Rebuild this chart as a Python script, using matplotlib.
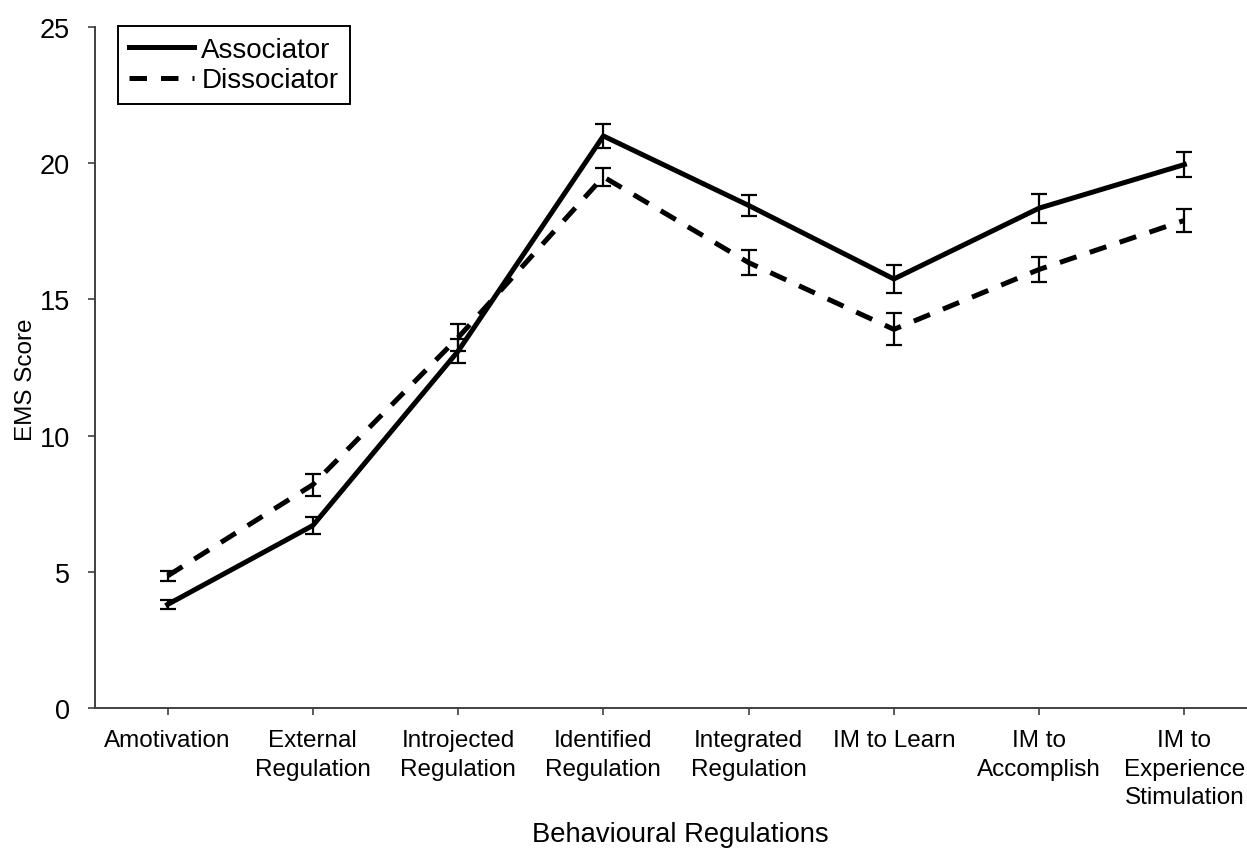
import matplotlib
matplotlib.use("Agg")
import matplotlib.pyplot as plt
from matplotlib.lines import Line2D
import numpy as np

# values
categories = [
    "Amotivation",
    "External\nRegulation",
    "Introjected\nRegulation",
    "Identified\nRegulation",
    "Integrated\nRegulation",
    "IM to Learn",
    "IM to\nAccomplish",
    "IM to\nExperience\nStimulation",
]
associator = [3.8, 6.7, 13.1, 21.0, 18.45, 15.75, 18.35, 19.95]
associator_err = [0.15, 0.33, 0.45, 0.45, 0.37, 0.5, 0.53, 0.45]
dissociator = [4.85, 8.2, 13.6, 19.5, 16.35, 13.9, 16.1, 17.9]
dissociator_err = [0.17, 0.4, 0.5, 0.33, 0.46, 0.59, 0.45, 0.42]

plt.rcParams["font.family"] = ["Liberation Sans", "DejaVu Sans"]
plt.rcParams["font.size"] = 17

fig = plt.figure(figsize=(12.47, 8.54), dpi=100)
ax = fig.add_axes([95 / 1247, 145 / 854, 1162 / 1247, 681 / 854])

x = np.arange(len(categories))
dash = (0, (3.5, 2.8))

ax.errorbar(x, associator, yerr=associator_err, color="black", linewidth=3.6,
            elinewidth=1.6, capsize=5.5, capthick=1.6)
ax.errorbar(x, dissociator, yerr=dissociator_err, color="black", linewidth=3.6,
            linestyle=dash, elinewidth=1.6, capsize=5.5, capthick=1.6)

ax.set_xlim(-0.5, 7.5)
ax.set_ylim(0, 25)
ax.set_yticks([0, 5, 10, 15, 20, 25])
ax.set_xticks(x)
ax.set_xticklabels(categories, linespacing=1.4, fontsize=17.5)
for lbl in ax.get_yticklabels():
    lbl.set_fontsize(19.5)

for side in ["top", "right"]:
    ax.spines[side].set_visible(False)
for side in ["left", "bottom"]:
    ax.spines[side].set_color("#404040")
    ax.spines[side].set_linewidth(1.4)

ax.tick_params(axis="y", direction="out", length=5, width=1.2, color="#404040", pad=13)
ax.tick_params(axis="x", direction="out", length=5, width=1.2, color="#404040", pad=10)

ax.set_ylabel("EMS Score", fontsize=17.5)
ax.yaxis.set_label_coords(-0.050, 0.483)
ax.set_xlabel("Behavioural Regulations", fontsize=19.7)
ax.xaxis.label.set_va("center")
ax.xaxis.set_label_coords((680 - 95) / 1162, (709 - 835) / 681)

handles = [
    Line2D([], [], color="black", linewidth=3.6),
    Line2D([], [], color="black", linewidth=3.6, linestyle=dash),
]
leg = ax.legend(handles, ["Associator", "Dissociator"], loc="upper left",
                bbox_to_anchor=(118 / 1247, 1 - 27 / 854), fontsize=20,
                bbox_transform=fig.transFigure, borderaxespad=0, fancybox=False,
                framealpha=1, edgecolor="black", handlelength=2.35,
                handletextpad=0.25, borderpad=0.4, labelspacing=0.15)
leg.get_frame().set_linewidth(1.4)

fig.savefig("out.png", dpi=100)
